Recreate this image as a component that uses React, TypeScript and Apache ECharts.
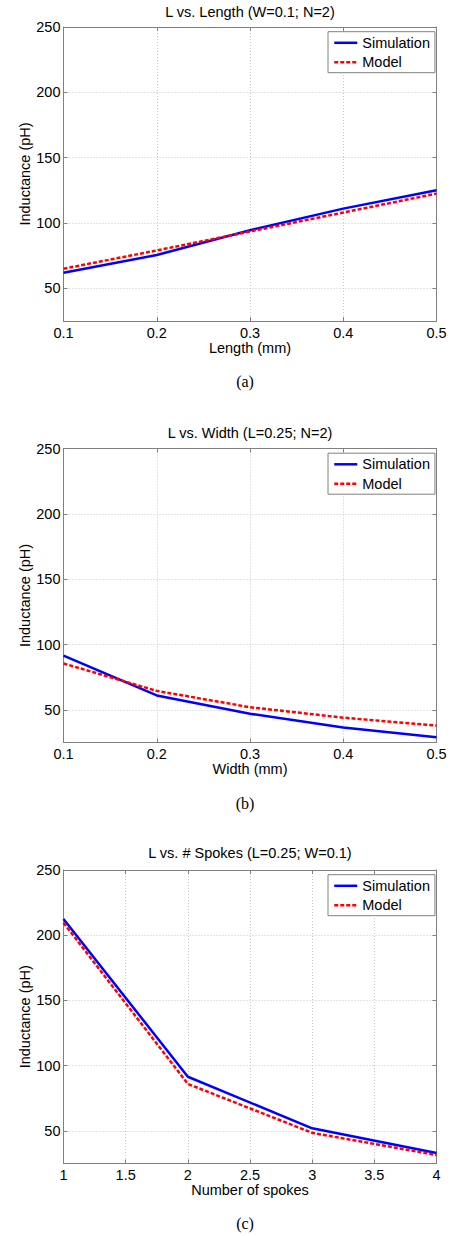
import React, { useEffect, useRef } from "react";
import * as echarts from "echarts";

// ---- data ----
const lengthX = [0.1, 0.2, 0.3, 0.4, 0.5];
const lengthSim = [62, 75.5, 94.5, 111, 125];
const lengthModel = [65, 79, 93.5, 108, 122.5];

const widthX = [0.1, 0.2, 0.3, 0.4, 0.5];
const widthSim = [91.5, 61, 47, 36.5, 29];
const widthModel = [85.5, 64.5, 52, 44, 38];

const spokesX = [1, 2, 3, 4];
const spokesSim = [212.5, 91.5, 52, 33];
const spokesModel = [209.5, 86, 48.5, 31.5];

const titles = [
  "L vs. Length (W=0.1; N=2)",
  "L vs. Width (L=0.25; N=2)",
  "L vs. # Spokes (L=0.25; W=0.1)",
];
const xNames = ["Length (mm)", "Width (mm)", "Number of spokes"];
const captions = ["(a)", "(b)", "(c)"];
const yName = "Inductance (pH)";
const seriesNames = ["Simulation", "Model"];
const xMins = [0.1, 0.1, 1];
const xMaxs = [0.5, 0.5, 4];
const xSteps = [0.1, 0.1, 0.5];
const yMin = 25;
const yMax = 250;

const FONT = "'Liberation Sans', Arial, Helvetica, sans-serif";
const SERIF = "'Liberation Serif', 'Times New Roman', serif";
const AXIS_COLOR = "#808080";
const GRID_COLOR = "#c8c8c8";

export default function App() {
  const ref = useRef<HTMLDivElement>(null);

  useEffect(() => {
    if (!ref.current) return;
    const chart = echarts.init(ref.current, undefined, { renderer: "svg" });

    const panels = [
      { x: lengthX, sim: lengthSim, model: lengthModel },
      { x: widthX, sim: widthSim, model: widthModel },
      { x: spokesX, sim: spokesSim, model: spokesModel },
    ];
    const gridTops = [27, 448.5, 870];
    const gridHeights = [294, 294, 293.5];
    const titleYs = [12, 433, 853.3];
    const captionYs = [381.7, 803.3, 1223.3];
    const gridLeft = 63.5;
    const gridWidth = 373;

    const grid: any[] = [];
    const xAxis: any[] = [];
    const yAxis: any[] = [];
    const series: any[] = [];
    const legend: any[] = [];
    const graphic: any[] = [];

    panels.forEach((p, i) => {
      grid.push({
        left: gridLeft,
        top: gridTops[i],
        width: gridWidth,
        height: gridHeights[i],
        containLabel: false,
      });
      // bottom x axis
      xAxis.push({
        type: "value",
        gridIndex: i,
        position: "bottom",
        min: xMins[i],
        max: xMaxs[i],
        interval: xSteps[i],
        name: xNames[i],
        nameLocation: "middle",
        nameGap: 19,
        nameMoveOverlap: false,
        nameTextStyle: { fontFamily: FONT, fontSize: 14.5, color: "#000" },
        axisLine: { show: true, lineStyle: { color: AXIS_COLOR, width: 1 } },
        axisTick: { show: true, inside: true, length: 4, lineStyle: { color: AXIS_COLOR } },
        axisLabel: { fontFamily: FONT, fontSize: 14.5, color: "#000", margin: 4 },
        splitLine: { show: true, lineStyle: { color: GRID_COLOR, type: [1, 2], width: 1 } },
      });
      // top x axis (box)
      xAxis.push({
        type: "value",
        gridIndex: i,
        position: "top",
        min: xMins[i],
        max: xMaxs[i],
        interval: xSteps[i],
        axisLine: { show: true, lineStyle: { color: AXIS_COLOR, width: 1 } },
        axisTick: { show: true, inside: true, length: 4, lineStyle: { color: AXIS_COLOR } },
        axisLabel: { show: false },
        splitLine: { show: false },
      });
      // left y axis
      yAxis.push({
        type: "value",
        gridIndex: i,
        position: "left",
        min: yMin,
        max: yMax,
        splitNumber: 5,
        name: yName,
        nameLocation: "middle",
        nameGap: 31,
        nameMoveOverlap: false,
        nameTextStyle: { fontFamily: FONT, fontSize: 14.5, color: "#000" },
        axisLine: { show: true, lineStyle: { color: AXIS_COLOR, width: 1 } },
        axisTick: { show: true, inside: true, length: 4, lineStyle: { color: AXIS_COLOR } },
        axisLabel: {
          fontFamily: FONT,
          fontSize: 14.5,
          color: "#000",
          margin: 3,
          showMinLabel: false,
        },
        splitLine: { show: true, lineStyle: { color: GRID_COLOR, type: [1, 2], width: 1 } },
      });
      // right y axis (box)
      yAxis.push({
        type: "value",
        gridIndex: i,
        position: "right",
        min: yMin,
        max: yMax,
        splitNumber: 5,
        axisLine: { show: true, lineStyle: { color: AXIS_COLOR, width: 1 } },
        axisTick: { show: true, inside: true, length: 4, lineStyle: { color: AXIS_COLOR } },
        axisLabel: { show: false },
        splitLine: { show: false },
      });

      series.push({
        name: seriesNames[0],
        type: "line",
        xAxisIndex: i * 2,
        yAxisIndex: i * 2,
        data: p.x.map((xv, k) => [xv, p.sim[k]]),
        symbol: "none",
        lineStyle: { color: "#0000ff", width: 2.5 },
        itemStyle: { color: "#0000ff" },
        z: 3,
      });
      series.push({
        name: seriesNames[1],
        type: "line",
        xAxisIndex: i * 2,
        yAxisIndex: i * 2,
        data: p.x.map((xv, k) => [xv, p.model[k]]),
        symbol: "none",
        lineStyle: { color: "#ff0000", width: 2.5, type: [4, 2] },
        itemStyle: { color: "#ff0000" },
        z: 4,
      });

      legend.push({
        data: seriesNames,
        orient: "vertical",
        left: 328,
        top: gridTops[i] + 4.7,
        itemWidth: 23,
        itemHeight: 14,
        itemGap: 4.4,
        padding: [3.6, 5, 3, 5],
        borderColor: AXIS_COLOR,
        borderWidth: 1,
        backgroundColor: "#ffffff",
        selectedMode: false,
        itemStyle: { opacity: 0, borderWidth: 0 },
        lineStyle: { width: 2.5 },
        textStyle: { fontFamily: FONT, fontSize: 14.5, color: "#000" },
      });

      graphic.push({
        type: "text",
        x: gridLeft + gridWidth / 2,
        y: titleYs[i],
        style: {
          text: titles[i],
          fontFamily: FONT,
          fontSize: 14.5,
          fill: "#000",
          textAlign: "center",
          textVerticalAlign: "middle",
        },
      });
      graphic.push({
        type: "text",
        x: 245,
        y: captionYs[i],
        style: {
          text: captions[i],
          fontFamily: SERIF,
          fontSize: 16,
          fill: "#000",
          textAlign: "center",
          textVerticalAlign: "middle",
        },
      });
    });

    chart.setOption({
      animation: false,
      backgroundColor: "#ffffff",
      grid,
      xAxis,
      yAxis,
      series,
      legend,
      graphic,
    });

    return () => {
      chart.dispose();
    };
  }, []);

  return (
    <div
      ref={ref}
      style={{ position: "absolute", left: 0, top: 0, width: 453, height: 1236 }}
    />
  );
}
